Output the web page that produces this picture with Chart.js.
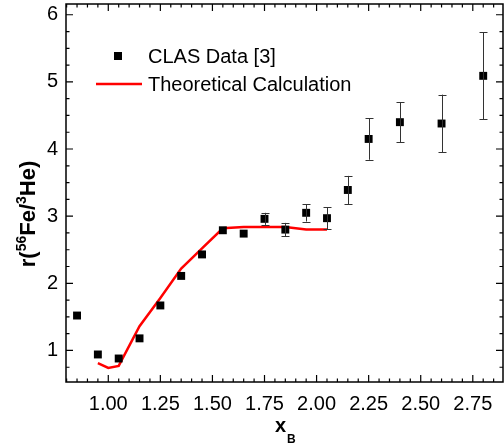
<!DOCTYPE html>
<html><head><meta charset="utf-8">
<script src="https://cdn.jsdelivr.net/npm/chart.js@4"></script>
<style>html,body{margin:0;padding:0;background:#fff;overflow:hidden}canvas{display:block}</style>
</head><body><canvas id="c" width="504" height="446" style="width:504px;height:446px"></canvas>
<script>
// ---- data ----
const xData = [0.85, 0.95, 1.05, 1.15, 1.25, 1.35, 1.45, 1.55, 1.65, 1.75, 1.85, 1.95, 2.05, 2.15, 2.25, 2.40, 2.60, 2.80];
const yData = [1.52, 0.94, 0.88, 1.18, 1.67, 2.11, 2.43, 2.79, 2.74, 2.96, 2.80, 3.05, 2.97, 3.39, 4.15, 4.40, 4.38, 5.09];
const yErr  = [0, 0, 0, 0, 0, 0, 0, 0, 0, 0.09, 0.10, 0.13, 0.165, 0.21, 0.31, 0.30, 0.43, 0.65];
const xTheory = [0.95, 1.00, 1.05, 1.15, 1.25, 1.35, 1.45, 1.55, 1.65, 1.75, 1.85, 1.95, 2.05];
const yTheory = [0.81, 0.74, 0.77, 1.36, 1.78, 2.22, 2.52, 2.82, 2.84, 2.84, 2.84, 2.80, 2.80];
const xTicks = [1.00, 1.25, 1.50, 1.75, 2.00, 2.25, 2.50, 2.75];
const yTicks = [1, 2, 3, 4, 5, 6];
const seriesLabels = ['CLAS Data [3]', 'Theoretical Calculation'];

const FONT = '"Liberation Sans", Arial, sans-serif';

const framePlugin = {
  id: 'frame',
  afterDatasetsDraw(chart) {
    const ctx = chart.ctx, a = chart.chartArea;
    const xs = chart.scales.x, ys = chart.scales.y;
    ctx.save();
    // error bars
    ctx.strokeStyle = '#333';
    ctx.lineWidth = 1;
    xData.forEach((x, i) => {
      if (!yErr[i]) return;
      const px = Math.round(xs.getPixelForValue(x)) + 0.5;
      const t = ys.getPixelForValue(yData[i] + yErr[i]);
      const b = ys.getPixelForValue(yData[i] - yErr[i]);
      ctx.beginPath();
      ctx.moveTo(px, t); ctx.lineTo(px, b);
      ctx.moveTo(px - 4, Math.round(t) + 0.5); ctx.lineTo(px + 4, Math.round(t) + 0.5);
      ctx.moveTo(px - 4, Math.round(b) + 0.5); ctx.lineTo(px + 4, Math.round(b) + 0.5);
      ctx.stroke();
    });
    // frame
    ctx.strokeStyle = '#000';
    ctx.lineWidth = 1.5;
    ctx.strokeRect(a.left, a.top, a.right - a.left, a.bottom - a.top);
    // ticks (inward)
    ctx.lineWidth = 1.2;
    ctx.beginPath();
    for (let k = 16; k <= 58; k++) {
      const v = k * 0.05;
      if (v < xs.min || v > xs.max) continue;
      const px = xs.getPixelForValue(v);
      const major = k % 5 === 0;
      const L = major ? 7 : 3.5;
      ctx.moveTo(px, a.bottom); ctx.lineTo(px, a.bottom - L);
      ctx.moveTo(px, a.top); ctx.lineTo(px, a.top + L);
    }
    for (let k = 2; k <= 24; k++) {
      const v = k * 0.25;
      if (v < ys.min || v > ys.max) continue;
      const py = ys.getPixelForValue(v);
      const major = k % 4 === 0;
      const L = major ? 7 : 3.5;
      ctx.moveTo(a.left, py); ctx.lineTo(a.left + L, py);
      ctx.moveTo(a.right, py); ctx.lineTo(a.right - L, py);
    }
    ctx.stroke();

    // legend
    ctx.fillStyle = '#000';
    ctx.fillRect(114, 52, 8, 8);
    ctx.strokeStyle = '#ff0000';
    ctx.lineWidth = 2.5;
    ctx.beginPath(); ctx.moveTo(96, 84); ctx.lineTo(142, 84); ctx.stroke();
    ctx.font = '20px ' + FONT;
    ctx.textBaseline = 'middle';
    ctx.textAlign = 'left';
    ctx.fillText(seriesLabels[0], 148, 57);
    ctx.fillText(seriesLabels[1], 148, 85);

    // x title: x with subscript B
    ctx.font = 'bold 20px ' + FONT;
    ctx.textBaseline = 'alphabetic';
    ctx.fillText('x', 275, 432);
    ctx.font = 'bold 12px ' + FONT;
    ctx.fillText('B', 287, 443);

    // y title: r(56Fe/3He) rotated
    const parts = [['r(', 0], ['56', 1], ['Fe/', 0], ['3', 1], ['He)', 0]];
    const mainF = 'bold 22px ' + FONT, supF = 'bold 14px ' + FONT;
    let total = 0;
    parts.forEach(p => { ctx.font = p[1] ? supF : mainF; total += ctx.measureText(p[0]).width; });
    ctx.translate(35, 214);
    ctx.rotate(-Math.PI / 2);
    let cx = -total / 2;
    parts.forEach(p => {
      ctx.font = p[1] ? supF : mainF;
      ctx.fillText(p[0], cx, p[1] ? -9 : 0);
      cx += ctx.measureText(p[0]).width;
    });
    ctx.restore();
  }
};

new Chart(document.getElementById('c'), {
  type: 'scatter',
  data: {
    datasets: [
      {
        label: seriesLabels[0],
        data: xData.map((x, i) => ({ x, y: yData[i] })),
        pointStyle: 'rect',
        pointRadius: 5.6,
        pointBorderWidth: 0,
        backgroundColor: '#000',
        borderColor: '#000',
        showLine: false,
        order: 1
      },
      {
        label: seriesLabels[1],
        type: 'line',
        data: xTheory.map((x, i) => ({ x, y: yTheory[i] })),
        borderColor: '#ff0000',
        borderWidth: 2.5,
        pointRadius: 0,
        fill: false,
        tension: 0,
        order: 2
      }
    ]
  },
  options: {
    responsive: false,
    animation: false,
    devicePixelRatio: 1,
    layout: { autoPadding: false, padding: { top: 4, right: 1, left: 0, bottom: 0 } },
    plugins: { legend: { display: false }, tooltip: { enabled: false } },
    scales: {
      x: {
        type: 'linear', min: 0.797, max: 2.895,
        afterBuildTicks: s => { s.ticks = xTicks.map(v => ({ value: v })); },
        afterFit: s => { s.height = 64; s.paddingLeft = 0; s.paddingRight = 0; },
        grid: { display: false, drawTicks: false },
        border: { display: false },
        ticks: { font: { size: 20, family: FONT }, color: '#000', padding: 10, maxRotation: 0, autoSkip: false,
                 callback: v => Number(v).toFixed(2) }
      },
      y: {
        type: 'linear', min: 0.53, max: 6.16,
        afterBuildTicks: s => { s.ticks = yTicks.map(v => ({ value: v })); },
        afterFit: s => { s.width = 66; s.paddingTop = 0; s.paddingBottom = 0; },
        grid: { display: false, drawTicks: false },
        border: { display: false },
        ticks: { font: { size: 20, family: FONT }, color: '#000', padding: 8, autoSkip: false,
                 callback: v => String(v) }
      }
    }
  },
  plugins: [framePlugin]
});
</script></body></html>
